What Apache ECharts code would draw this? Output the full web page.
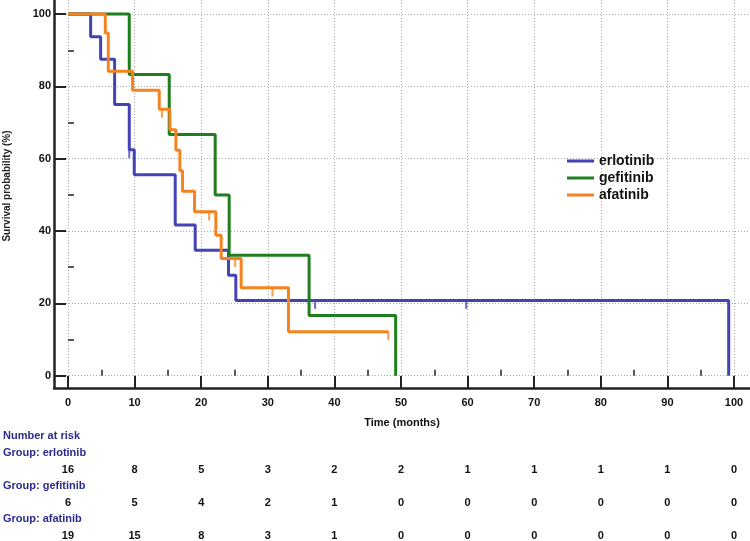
<!DOCTYPE html>
<html>
<head>
<meta charset="utf-8">
<script src="https://cdn.jsdelivr.net/npm/echarts@6/dist/echarts.min.js"></script>
<style>html,body{margin:0;padding:0;background:#fff}#c{width:750px;height:541px}</style>
</head>
<body>
<div id="c"></div>
<script>
// ---- data ----
const xTicks = [0, 10, 20, 30, 40, 50, 60, 70, 80, 90, 100];
const xMinorTicks = [5, 15, 25, 35, 45, 55, 65, 75, 85, 95];
const yTicks = [0, 20, 40, 60, 80, 100];
const yMinorTicks = [10, 30, 50, 70, 90];
const groupNames = ['erlotinib', 'gefitinib', 'afatinib'];

const erlotinib = [[0,100],[3.4,93.75],[4.9,87.5],[7.0,75.0],[9.2,62.5],[9.95,55.56],[16.1,41.67],[19.1,34.72],[24.1,27.78],[25.2,20.83],[99.2,0]];
const erlotinibCensored = [[9.2,62.5],[37.1,20.83],[59.8,20.83]];
const gefitinib = [[0,100],[9.2,83.33],[15.2,66.67],[22.1,50],[24.2,33.33],[36.2,16.67],[49.2,0]];
const gefitinibCensored = [];
const afatinib = [[0,100],[5.6,94.74],[6.05,84.21],[9.7,78.95],[13.7,73.68],[15.3,68.02],[16.2,62.35],[16.8,56.68],[17.2,51.01],[19.0,45.35],[22.2,38.87],[23.0,32.39],[26.0,24.29],[33.1,12.15],[48.1,12.15]];
const afatinibCensored = [[14.1,73.68],[21.2,45.35],[25.1,32.39],[30.7,24.29],[48.1,12.15]];

const riskErlotinib = [16, 8, 5, 3, 2, 2, 1, 1, 1, 1, 0];
const riskGefitinib = [6, 5, 4, 2, 1, 0, 0, 0, 0, 0, 0];
const riskAfatinib = [19, 15, 8, 3, 1, 0, 0, 0, 0, 0, 0];

// ---- styling ----
const FONT = 'Liberation Sans';
const colors = ['#4343b3', '#1f7f1f', '#f5821f'];
const X_MIN = -2.1, X_MAX = 102.4, Y_MIN = -3.4, Y_MAX = 103.9;
const axisColor = '#222';

const chart = echarts.init(document.getElementById('c'), null, {renderer: 'canvas'});

function riskAxis(gridIndex, values) {
  return {
    type: 'value', gridIndex, min: X_MIN, max: X_MAX, position: 'bottom',
    axisLine: {show: false}, axisTick: {show: false}, splitLine: {show: false},
    axisLabel: {
      customValues: xTicks, margin: 0, color: '#111', fontFamily: FONT,
      fontWeight: 'bold', fontSize: 11,
      formatter: v => String(values[Math.round(v / 10)])
    }
  };
}
function hiddenY(gridIndex) {
  return {type: 'value', gridIndex, show: false, min: 0, max: 1};
}

const lineSeries = [erlotinib, gefitinib, afatinib].map((d, i) => ({
  name: groupNames[i], type: 'line', step: 'end', data: d,
  xAxisIndex: 0, yAxisIndex: 0, showSymbol: false, symbol: 'none',
  lineStyle: {color: colors[i], width: 3}, itemStyle: {color: colors[i]},
  z: 3 + i, animation: false
}));
const censorSeries = [erlotinibCensored, gefitinibCensored, afatinibCensored].map((d, i) => ({
  name: groupNames[i] + ' censored', type: 'scatter', data: d,
  xAxisIndex: 0, yAxisIndex: 0, symbol: 'rect', symbolSize: [2, 9], symbolOffset: [0, 4],
  itemStyle: {color: colors[i]}, z: 3 + i, animation: false, silent: true
}));

const option = {
  backgroundColor: '#fff',
  animation: false,
  grid: [
    {left: 54, right: 0, top: 0, height: 388},
    {left: 54, right: 0, top: 463, height: 1},
    {left: 54, right: 0, top: 496, height: 1},
    {left: 54, right: 0, top: 529, height: 1}
  ],
  legend: {
    data: groupNames, orient: 'vertical', left: 562, top: 149,
    itemWidth: 27, itemHeight: 3, itemGap: 3, icon: 'rect',
    textStyle: {fontFamily: FONT, fontWeight: 'bold', fontSize: 14, color: '#111'}
  },
  xAxis: [
    {
      type: 'value', gridIndex: 0, min: X_MIN, max: X_MAX, position: 'bottom',
      name: 'Time (months)', nameLocation: 'middle', nameGap: 29,
      nameTextStyle: {fontFamily: FONT, fontWeight: 'bold', fontSize: 11, color: '#111'},
      axisLine: {show: true, onZero: false, lineStyle: {color: axisColor, width: 2.5}},
      axisTick: {show: true, inside: true, length: 12, customValues: xTicks, lineStyle: {color: axisColor, width: 2}},
      axisLabel: {customValues: xTicks, margin: 9, color: '#111', fontFamily: FONT, fontWeight: 'bold', fontSize: 11},
      splitLine: {show: true, lineStyle: {color: '#aaaaaa', type: [1, 2], width: 1}}
    },
    {
      type: 'value', gridIndex: 0, min: X_MIN, max: X_MAX, position: 'bottom',
      axisLine: {show: false}, axisLabel: {show: false}, splitLine: {show: false},
      axisTick: {show: true, inside: true, length: 6, customValues: xMinorTicks, lineStyle: {color: axisColor, width: 1.5}}
    },
    riskAxis(1, riskErlotinib),
    riskAxis(2, riskGefitinib),
    riskAxis(3, riskAfatinib)
  ],
  yAxis: [
    {
      type: 'value', gridIndex: 0, min: Y_MIN, max: Y_MAX, position: 'left',
      axisLine: {show: true, onZero: false, lineStyle: {color: axisColor, width: 2.5}},
      axisTick: {show: true, inside: true, length: 12, customValues: yTicks, lineStyle: {color: axisColor, width: 2}},
      axisLabel: {customValues: yTicks, margin: 3, color: '#111', fontFamily: FONT, fontWeight: 'bold', fontSize: 11},
      splitLine: {show: true, lineStyle: {color: '#aaaaaa', type: [1, 2], width: 1}}
    },
    {
      type: 'value', gridIndex: 0, min: Y_MIN, max: Y_MAX, position: 'left',
      axisLine: {show: false}, axisLabel: {show: false}, splitLine: {show: false},
      axisTick: {show: true, inside: true, length: 6, customValues: yMinorTicks, lineStyle: {color: axisColor, width: 1.5}}
    },
    hiddenY(1), hiddenY(2), hiddenY(3)
  ],
  graphic: [
    {type: 'text', x: 7, y: 186, rotation: Math.PI / 2,
     style: {text: 'Survival probability (%)', fill: '#222', font: 'bold 10px "' + FONT + '"', align: 'center', verticalAlign: 'middle'}},
    {type: 'text', x: 3, y: 436, style: {text: 'Number at risk', fill: '#2b2b8f', font: 'bold 11px "' + FONT + '"', verticalAlign: 'middle'}},
    {type: 'text', x: 3, y: 453, style: {text: 'Group: erlotinib', fill: '#2b2b8f', font: 'bold 11px "' + FONT + '"', verticalAlign: 'middle'}},
    {type: 'text', x: 3, y: 486, style: {text: 'Group: gefitinib', fill: '#2b2b8f', font: 'bold 11px "' + FONT + '"', verticalAlign: 'middle'}},
    {type: 'text', x: 3, y: 519, style: {text: 'Group: afatinib', fill: '#2b2b8f', font: 'bold 11px "' + FONT + '"', verticalAlign: 'middle'}}
  ],
  series: lineSeries.concat(censorSeries)
};
chart.setOption(option);
</script>
</body>
</html>
